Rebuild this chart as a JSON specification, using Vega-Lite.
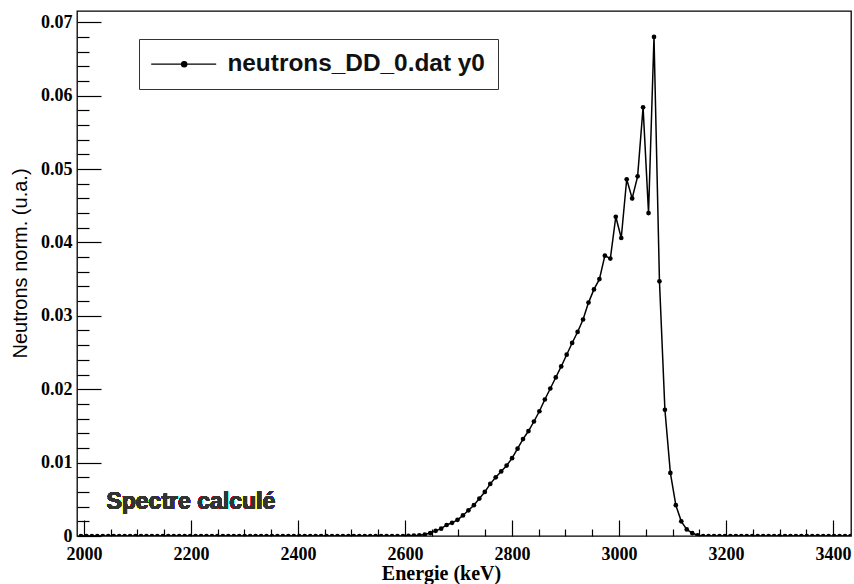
{
  "$schema": "https://vega.github.io/schema/vega-lite/v6.json",
  "width": 774,
  "height": 525,
  "autosize": {"type": "none"},
  "padding": {"left": 77, "top": 11, "right": 3, "bottom": 48},
  "background": "white",
  "config": {
    "view": {"stroke": "black", "strokeWidth": 1.3},
    "axis": {"grid": false, "labelFlush": false, "labelOverlap": false, "tickColor": "black", "domain": false, "tickWidth": 1.2, "zindex": 1}
  },
  "data": {"values": [
    {"E": 1994.4, "v": 0}, {"E": 2004.6, "v": 0}, {"E": 2014.8, "v": 0}, {"E": 2025.0, "v": 0}, {"E": 2035.2, "v": 0},
    {"E": 2045.4, "v": 0}, {"E": 2055.6, "v": 0}, {"E": 2065.8, "v": 0}, {"E": 2076.0, "v": 0}, {"E": 2086.2, "v": 0},
    {"E": 2096.4, "v": 0}, {"E": 2106.6, "v": 0}, {"E": 2116.8, "v": 0}, {"E": 2127.0, "v": 0}, {"E": 2137.2, "v": 0},
    {"E": 2147.4, "v": 0}, {"E": 2157.6, "v": 0}, {"E": 2167.8, "v": 0}, {"E": 2178.0, "v": 0}, {"E": 2188.2, "v": 0},
    {"E": 2198.4, "v": 0}, {"E": 2208.6, "v": 0}, {"E": 2218.8, "v": 0}, {"E": 2229.0, "v": 0}, {"E": 2239.2, "v": 0},
    {"E": 2249.4, "v": 0}, {"E": 2259.6, "v": 0}, {"E": 2269.8, "v": 0}, {"E": 2280.0, "v": 0}, {"E": 2290.2, "v": 0},
    {"E": 2300.4, "v": 0}, {"E": 2310.6, "v": 0}, {"E": 2320.8, "v": 0}, {"E": 2331.0, "v": 0}, {"E": 2341.2, "v": 0},
    {"E": 2351.4, "v": 0}, {"E": 2361.6, "v": 0}, {"E": 2371.8, "v": 0}, {"E": 2382.0, "v": 0}, {"E": 2392.2, "v": 0},
    {"E": 2402.4, "v": 0}, {"E": 2412.6, "v": 0}, {"E": 2422.8, "v": 0}, {"E": 2433.0, "v": 0}, {"E": 2443.2, "v": 0},
    {"E": 2453.4, "v": 0}, {"E": 2463.6, "v": 0}, {"E": 2473.8, "v": 0}, {"E": 2484.0, "v": 0}, {"E": 2494.2, "v": 0},
    {"E": 2504.4, "v": 0}, {"E": 2514.6, "v": 0}, {"E": 2524.8, "v": 0}, {"E": 2535.0, "v": 0}, {"E": 2545.2, "v": 0},
    {"E": 2555.4, "v": 0}, {"E": 2565.6, "v": 0}, {"E": 2575.8, "v": 0}, {"E": 2586.0, "v": 0}, {"E": 2596.2, "v": 0},
    {"E": 2606.4, "v": 0.00003}, {"E": 2616.6, "v": 0.00006}, {"E": 2626.8, "v": 0.0001}, {"E": 2637.0, "v": 0.0002},
    {"E": 2647.2, "v": 0.0004}, {"E": 2657.4, "v": 0.0007}, {"E": 2667.6, "v": 0.0010}, {"E": 2677.8, "v": 0.0015},
    {"E": 2688.0, "v": 0.0018}, {"E": 2698.2, "v": 0.0022}, {"E": 2708.4, "v": 0.0028}, {"E": 2718.6, "v": 0.0035},
    {"E": 2728.8, "v": 0.0042}, {"E": 2739.0, "v": 0.0051}, {"E": 2749.2, "v": 0.0060}, {"E": 2759.4, "v": 0.0071},
    {"E": 2769.6, "v": 0.0080}, {"E": 2779.8, "v": 0.0088}, {"E": 2790.0, "v": 0.0096}, {"E": 2800.2, "v": 0.0106},
    {"E": 2810.4, "v": 0.0119}, {"E": 2820.6, "v": 0.0132}, {"E": 2830.8, "v": 0.0143}, {"E": 2841.0, "v": 0.0156},
    {"E": 2851.2, "v": 0.0170}, {"E": 2861.4, "v": 0.0186}, {"E": 2871.6, "v": 0.0201}, {"E": 2881.8, "v": 0.0216},
    {"E": 2892.0, "v": 0.0231}, {"E": 2902.2, "v": 0.0247}, {"E": 2912.4, "v": 0.0263}, {"E": 2922.6, "v": 0.0278},
    {"E": 2932.8, "v": 0.0295}, {"E": 2943.0, "v": 0.0318}, {"E": 2953.2, "v": 0.0336}, {"E": 2963.4, "v": 0.0350},
    {"E": 2973.6, "v": 0.0382}, {"E": 2983.8, "v": 0.0378}, {"E": 2994.0, "v": 0.0435}, {"E": 3004.2, "v": 0.0406},
    {"E": 3014.4, "v": 0.0486}, {"E": 3024.6, "v": 0.0460}, {"E": 3034.8, "v": 0.0490}, {"E": 3045.0, "v": 0.0584},
    {"E": 3055.2, "v": 0.0440}, {"E": 3065.4, "v": 0.0680}, {"E": 3075.6, "v": 0.0347}, {"E": 3085.8, "v": 0.0172},
    {"E": 3096.0, "v": 0.0086}, {"E": 3106.2, "v": 0.0042}, {"E": 3116.4, "v": 0.0020}, {"E": 3126.6, "v": 0.0009},
    {"E": 3136.8, "v": 0.0004}, {"E": 3147.0, "v": 0.0001}, {"E": 3157.2, "v": 0}, {"E": 3167.4, "v": 0},
    {"E": 3177.6, "v": 0}, {"E": 3187.8, "v": 0}, {"E": 3198.0, "v": 0}, {"E": 3208.2, "v": 0}, {"E": 3218.4, "v": 0},
    {"E": 3228.6, "v": 0}, {"E": 3238.8, "v": 0}, {"E": 3249.0, "v": 0}, {"E": 3259.2, "v": 0}, {"E": 3269.4, "v": 0},
    {"E": 3279.6, "v": 0}, {"E": 3289.8, "v": 0}, {"E": 3300.0, "v": 0}, {"E": 3310.2, "v": 0}, {"E": 3320.4, "v": 0},
    {"E": 3330.6, "v": 0}, {"E": 3340.8, "v": 0}, {"E": 3351.0, "v": 0}, {"E": 3361.2, "v": 0}, {"E": 3371.4, "v": 0},
    {"E": 3381.6, "v": 0}, {"E": 3391.8, "v": 0}, {"E": 3402.0, "v": 0}, {"E": 3412.2, "v": 0}, {"E": 3422.4, "v": 0},
    {"E": 3432.6, "v": 0}
  ]},
  "resolve": {"axis": {"x": "independent", "y": "independent"}},
  "layer": [
    {
      "mark": {"type": "line", "strokeWidth": 1.5, "clip": true, "point": {"filled": true, "size": 22, "color": "black"}},
      "transform": [{"calculate": "'neutrons_DD_0.dat y0'", "as": "series"}],
      "encoding": {
        "x": {"field": "E", "type": "quantitative", "scale": {"domain": [1987, 3433.6], "nice": false, "zero": false},
          "axis": {"orient": "bottom", "offset": -16, "values": [2000, 2200, 2400, 2600, 2800, 3000, 3200, 3400], "format": "d", "tickSize": 16, "labelPadding": 9,
            "labelFont": "Liberation Serif", "labelFontWeight": "bold", "labelFontSize": 18, "labelColor": "black",
            "title": "Energie (keV)", "titleFont": "Liberation Serif", "titleFontWeight": "bold", "titleFontSize": 20, "titleColor": "black",
            "titleX": 364, "titleY": 59, "titleBaseline": "alphabetic", "titleAnchor": "middle", "titleAlign": "center"}},
        "y": {"field": "v", "type": "quantitative", "scale": {"domain": [0, 0.07153], "nice": false},
          "axis": {"orient": "left", "offset": -24, "values": [0, 0.01, 0.02, 0.03, 0.04, 0.05, 0.06, 0.07], "tickSize": 24, "labelPadding": 5,
            "labelExpr": "datum.value === 0 ? '0' : format(datum.value, '.2f')",
            "labelFont": "Liberation Serif", "labelFontWeight": "bold", "labelFontSize": 18, "labelColor": "black",
            "title": "Neutrons norm. (u.a.)", "titleFont": "Liberation Sans", "titleFontWeight": "normal", "titleFontSize": 20, "titleColor": "black",
            "titleX": -81, "titleY": 252, "titleAngle": -90, "titleAlign": "center", "titleBaseline": "middle", "titleAnchor": "middle"}},
        "color": {"field": "series", "type": "nominal", "scale": {"range": ["black"]},
          "legend": {"orient": "none", "legendX": 62, "legendY": 28, "title": null,
            "symbolType": "M-1.6,0H6.4M2.14,0A0.32,0.32,0,1,0,2.78,0A0.32,0.32,0,1,0,2.14,0Z",
            "symbolSize": 264, "symbolStrokeWidth": 1.3, "symbolStrokeColor": "black", "symbolFillColor": "black",
            "labelFont": "Liberation Sans", "labelFontWeight": "bold", "labelFontSize": 24.4, "labelColor": "#111",
            "labelOffset": 51, "labelLimit": 500, "padding": 13, "strokeColor": "#333", "fillColor": "white"}}
      }
    },
    {
      "mark": {"type": "text", "text": "Spectre calculé", "align": "left", "baseline": "alphabetic", "font": "Liberation Sans", "fontWeight": "bold", "fontSize": 23, "color": "#333"},
      "encoding": {
        "x": {"datum": 2042, "type": "quantitative",
          "axis": {"orient": "bottom", "offset": -7, "values": [2050, 2100, 2150, 2250, 2300, 2350, 2450, 2500, 2550, 2650, 2700, 2750, 2850, 2900, 2950, 3050, 3100, 3150, 3250, 3300, 3350],
            "tickSize": 7, "labels": false, "title": null}},
        "y": {"datum": 0.0037, "type": "quantitative",
          "axis": {"orient": "left", "offset": -12, "values": [0.002, 0.004, 0.006, 0.008, 0.012, 0.014, 0.016, 0.018, 0.022, 0.024, 0.026, 0.028, 0.032, 0.034, 0.036, 0.038, 0.042, 0.044, 0.046, 0.048, 0.052, 0.054, 0.056, 0.058, 0.062, 0.064, 0.066, 0.068],
            "tickSize": 12, "labels": false, "title": null}}
      }
    }
  ]
}
